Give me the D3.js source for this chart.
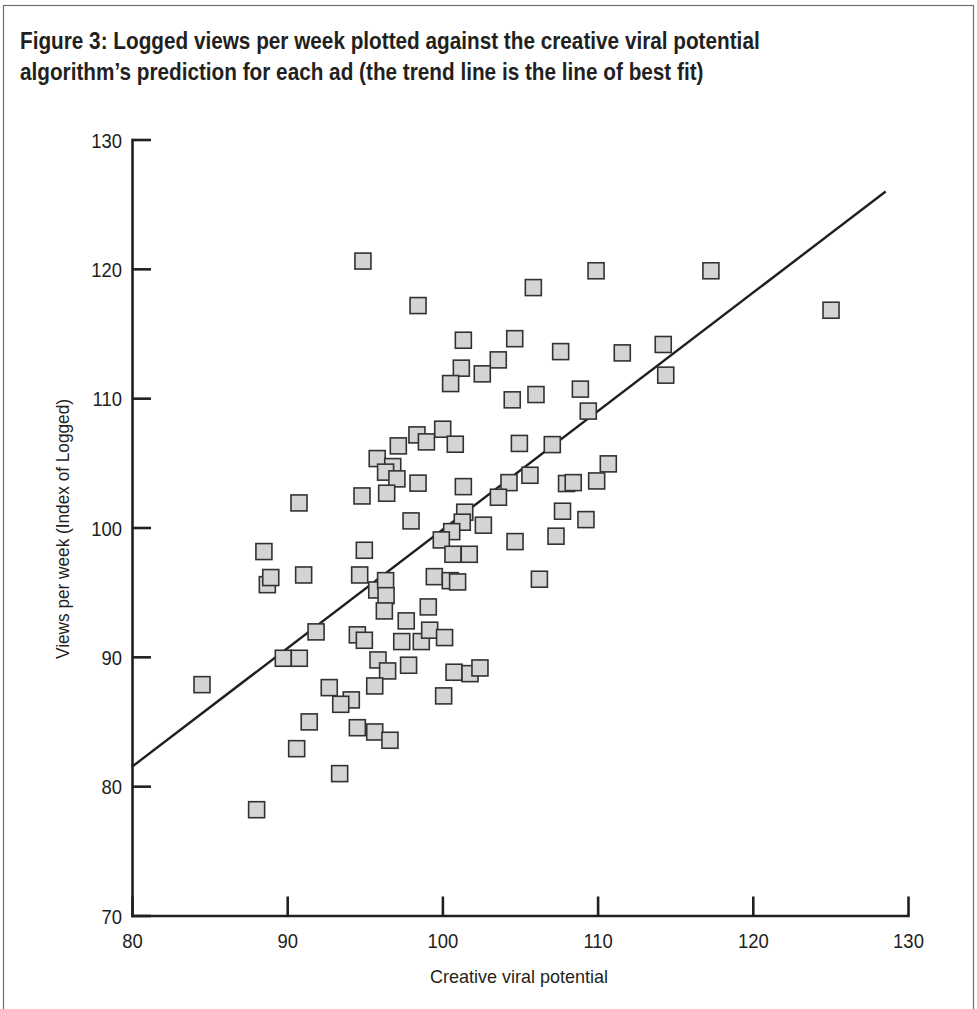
<!DOCTYPE html>
<html>
<head>
<meta charset="utf-8">
<script src="https://cdn.jsdelivr.net/npm/d3@7"></script>
<style>
  html, body { margin: 0; padding: 0; background: #fff; }
  svg { display: block; }
</style>
</head>
<body>
<script>
// ---------- data ----------
const titleLines = [
  "Figure 3: Logged views per week plotted against the creative viral potential",
  "algorithm\u2019s prediction for each ad (the trend line is the line of best fit)"
];
const xLabel = "Creative viral potential";
const yLabel = "Views per week (Index of Logged)";
const xTicks = [80, 90, 100, 110, 120, 130];
const yTicks = [70, 80, 90, 100, 110, 120, 130];

const viralPotential = [
  94.88, 98.43, 105.86, 109.9, 117.3, 125.04, 101.35, 104.66, 103.6, 101.22,
  102.57, 100.53, 107.62, 111.59, 114.23, 114.39, 104.5, 106.03, 108.89, 109.4,
  104.96, 107.08, 110.69, 105.64, 104.29, 108.0, 108.43, 109.94, 98.36, 100.02,
  98.97, 100.83, 97.16, 95.8, 96.8, 96.34, 97.07, 98.43, 101.35, 90.76,
  94.82, 96.41, 103.61, 97.98, 101.44, 101.28, 102.64, 100.6, 99.93, 100.68,
  101.73, 104.68, 107.32, 107.74, 109.25, 88.5, 94.97, 88.72, 88.94, 91.06,
  94.67, 95.77, 96.34, 96.37, 96.26, 99.48, 100.51, 100.98, 106.25, 99.09,
  91.86, 89.75, 90.78, 94.52, 94.97, 97.67, 97.38, 98.64, 99.18, 100.14,
  95.85, 96.47, 97.82, 100.75, 101.78, 102.42, 100.08, 92.71, 94.13, 93.45,
  95.64, 84.51, 91.42, 94.52, 95.64, 96.62, 90.61, 93.38, 88.03
];
const viewsPerWeek = [
  120.6, 117.16, 118.55, 119.85, 119.85, 116.8, 114.48, 114.6, 112.96, 112.32,
  111.88, 111.13, 113.6, 113.5, 114.15, 111.78, 109.87, 110.28, 110.7, 109.0,
  106.5, 106.41, 104.92, 104.04, 103.47, 103.4, 103.47, 103.6, 107.16, 107.6,
  106.62, 106.44, 106.31, 105.33, 104.71, 104.28, 103.76, 103.43, 103.16, 101.9,
  102.44, 102.65, 102.34, 100.51, 101.18, 100.41, 100.18, 99.68, 99.04, 97.93,
  97.93, 98.91, 99.33, 101.26, 100.61, 98.14, 98.24, 95.58, 96.13, 96.33,
  96.33, 95.17, 95.89, 94.73, 93.55, 96.2, 95.89, 95.79, 96.0, 93.86,
  91.93, 89.89, 89.89, 91.7, 91.28, 92.78, 91.18, 91.18, 92.06, 91.49,
  89.76, 88.91, 89.35, 88.81, 88.7, 89.14, 86.98, 87.62, 86.67, 86.33,
  87.75, 87.85, 84.97, 84.52, 84.19, 83.55, 82.9, 80.97, 78.18
];
// trend line (line of best fit) endpoints
const trendX = [80, 128.56];
const trendY = [81.5, 125.98];

// ---------- layout ----------
const W = 977, H = 1009;
const plot = { left: 132, right: 908, top: 139.5, bottom: 915.5 };
const ink = "#231f20";
const sans = "'Liberation Sans', Arial, sans-serif";

const svg = d3.select("body").append("svg")
  .attr("width", W).attr("height", H);

svg.append("rect")
  .attr("x", 3.5).attr("y", 5.5).attr("width", 970).attr("height", 1020)
  .attr("fill", "none").attr("stroke", "#6d6e70").attr("stroke-width", 1.2);

// helper: horizontally condensed text fitted to a target width
function condensed(parent, txt, cx, cy, fs, targetW, anchor, extra) {
  const g = parent.append("g");
  const t = g.append("text").attr("font-family", sans).attr("font-size", fs)
    .attr("fill", ink).attr("text-anchor", anchor).text(txt);
  if (extra) extra(t);
  const w = t.node().getComputedTextLength();
  const sx = targetW / w;
  g.attr("transform", `translate(${cx},${cy}) scale(${sx},1)`);
  return g;
}

// title
condensed(svg, titleLines[0], 20, 49, 23, 740, "start", t => t.attr("font-weight", "bold"));
{
  // line 2 uses same compression as line 1
  const probe = svg.append("text").attr("font-family", sans).attr("font-size", 23).attr("font-weight", "bold").text(titleLines[0]);
  const sx = 740 / probe.node().getComputedTextLength();
  probe.remove();
  svg.append("g").attr("transform", `translate(20,80) scale(${sx},1)`)
    .append("text").attr("font-family", sans).attr("font-size", 23).attr("font-weight", "bold")
    .attr("fill", ink).text(titleLines[1]);
}

const x = d3.scaleLinear().domain([80, 130]).range([plot.left, plot.right]);
const y = d3.scaleLinear().domain([70, 130]).range([plot.bottom, plot.top]);

// axes
const xAxis = d3.axisBottom(x).tickValues(xTicks).tickSize(-19).tickPadding(18).tickSizeOuter(0);
const yAxis = d3.axisLeft(y).tickValues(yTicks).tickSize(-19).tickPadding(10).tickSizeOuter(0);

const gx = svg.append("g").attr("transform", `translate(0,${plot.bottom})`).call(xAxis);
const gy = svg.append("g").attr("transform", `translate(${plot.left},0)`).call(yAxis);
[gx, gy].forEach(g => {
  g.select(".domain").attr("stroke", ink).attr("stroke-width", 2.6).attr("stroke-linecap", "square");
  g.selectAll(".tick line").attr("stroke", ink).attr("stroke-width", 2.6);
  g.selectAll(".tick text").attr("font-family", sans).attr("font-size", 21).attr("fill", ink)
    .attr("textLength", null);
});
// narrow the tick numerals slightly (Myriad-like proportions)
gy.selectAll(".tick text").attr("dy", "0.36em")
  .attr("transform", function() { const xx = +d3.select(this).attr("x"); return `translate(${xx},0) scale(0.88,1) translate(${-xx},0)`; });
gx.selectAll(".tick text").attr("dy", "0.71em")
  .attr("transform", "scale(0.88,1)");

// axis labels
condensed(svg, xLabel, 519, 983, 18, 178, "middle");
{
  const g = svg.append("g");
  const t = g.append("text").attr("font-family", sans).attr("font-size", 18)
    .attr("fill", ink).attr("text-anchor", "middle").text(yLabel);
  const w = t.node().getComputedTextLength();
  g.attr("transform", `translate(69,529) rotate(-90) scale(${260 / w},1)`);
}

// trend line
svg.append("line")
  .attr("x1", x(trendX[0])).attr("y1", y(trendY[0]))
  .attr("x2", x(trendX[1])).attr("y2", y(trendY[1]))
  .attr("stroke", ink).attr("stroke-width", 2.4);

// points
const pts = viralPotential.map((v, i) => ({ x: v, y: viewsPerWeek[i] }));
const s = 16;
svg.append("g").selectAll("rect").data(pts).join("rect")
  .attr("x", d => x(d.x) - s / 2).attr("y", d => y(d.y) - s / 2)
  .attr("width", s).attr("height", s)
  .attr("fill", "#d3d4d6").attr("stroke", "#333132").attr("stroke-width", 1.6);
</script>
</body>
</html>
